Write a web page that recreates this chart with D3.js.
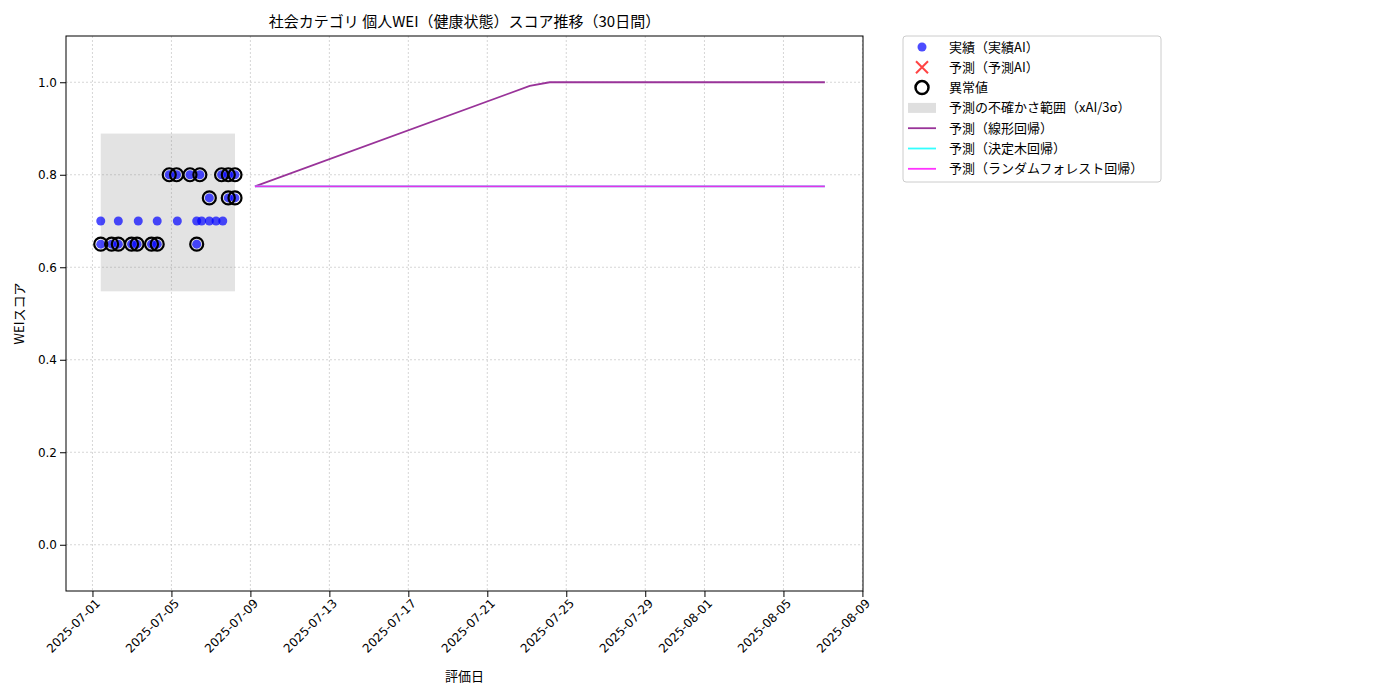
<!DOCTYPE html>
<html><head><meta charset="utf-8">
<script src="https://cdn.jsdelivr.net/npm/d3@7"></script>
<style>body{margin:0;background:#fff;font-family:"Noto Sans CJK JP","DejaVu Sans",sans-serif}</style>
</head><body><svg id="chart"></svg>
<script>
// day offsets from 2025-07-01
const actualDays = [0.42,0.97,1.31,1.98,2.26,2.99,3.28,5.28,
  0.42,1.31,2.32,3.28,4.3,5.28,5.53,5.92,6.26,6.6,
  3.89,4.26,4.94,5.44,6.54,6.88,7.22,
  5.92,6.88,7.22];
const actualVals = [0.65,0.65,0.65,0.65,0.65,0.65,0.65,0.65,
  0.70,0.70,0.70,0.70,0.70,0.70,0.70,0.70,0.70,0.70,
  0.80,0.80,0.80,0.80,0.80,0.80,0.80,
  0.75,0.75,0.75];
const anomalyIdx = [0,1,2,3,4,5,6,7,18,19,20,21,22,23,24,25,26,27];
const bandDays = [0.42,7.22];
const bandVals = [0.548,0.889];
const linDays = [8.23,22.15,23.16,37.1];
const linVals = [0.775,0.992,1.0,1.0];
const treeDays = [8.23,37.1];
const treeVals = [0.775,0.775];
const rfDays = [8.23,37.1];
const rfVals = [0.775,0.775];
const tickDates = ["2025-07-01","2025-07-05","2025-07-09","2025-07-13","2025-07-17","2025-07-21","2025-07-25","2025-07-29","2025-08-01","2025-08-05","2025-08-09"];
const yTicks = [0.0,0.2,0.4,0.6,0.8,1.0];

const base = new Date(2025,6,1);
const dt = d => new Date(base.getTime() + d*86400000);
const parse = d3.timeParse("%Y-%m-%d");

const svg = d3.select("#chart").attr("width",1400).attr("height",700);
const L=66,R=863,T=36,B=591;
const x = d3.scaleTime().domain([dt(-1.34), dt(39.03)]).range([L,R]);
const y = d3.scaleLinear().domain([-0.1,1.1]).range([B,T]);

// grid
const g = svg.append("g");
g.selectAll(".vg").data(tickDates).enter().append("line")
  .attr("x1",d=>x(parse(d))).attr("x2",d=>x(parse(d))).attr("y1",T).attr("y2",B)
  .attr("stroke","#ccc").attr("stroke-dasharray","2,2").attr("stroke-width",0.8);
g.selectAll(".hg").data(yTicks).enter().append("line")
  .attr("x1",L).attr("x2",R).attr("y1",d=>y(d)).attr("y2",d=>y(d))
  .attr("stroke","#ccc").attr("stroke-dasharray","2,2").attr("stroke-width",0.8);

// band
svg.append("rect").attr("x",x(dt(bandDays[0]))).attr("width",x(dt(bandDays[1]))-x(dt(bandDays[0])))
  .attr("y",y(bandVals[1])).attr("height",y(bandVals[0])-y(bandVals[1]))
  .attr("fill","#808080").attr("opacity",0.22);

// lines
const line = (ds,vs,color) => svg.append("path")
  .datum(ds.map((d,i)=>[d,vs[i]]))
  .attr("d",d3.line().x(d=>x(dt(d[0]))).y(d=>y(d[1])))
  .attr("fill","none").attr("stroke",color).attr("stroke-width",1.8);
line(linDays,linVals,"#993399");
line(treeDays,treeVals,"#33ffff");
line(rfDays,rfVals,"#e633e6");

// points
svg.selectAll(".pt").data(actualDays).enter().append("circle")
  .attr("cx",d=>x(dt(d))).attr("cy",(d,i)=>y(actualVals[i])).attr("r",4.5)
  .attr("fill","#0000ff").attr("fill-opacity",0.7);
svg.selectAll(".an").data(anomalyIdx).enter().append("circle")
  .attr("cx",i=>x(dt(actualDays[i]))).attr("cy",i=>y(actualVals[i])).attr("r",6.5)
  .attr("fill","none").attr("stroke","#000").attr("stroke-width",2.2);

// axes
const xa = svg.append("g").attr("transform",`translate(0,${B})`)
  .call(d3.axisBottom(x).tickValues(tickDates.map(parse)).tickFormat(d3.timeFormat("%Y-%m-%d")).tickSizeOuter(0));
xa.selectAll("text").attr("transform","rotate(-45)").attr("text-anchor","end")
  .attr("dx","-0.3em").attr("dy","0.5em").style("font-size","12px").style("font-family","DejaVu Sans");
const ya = svg.append("g").attr("transform",`translate(${L},0)`)
  .call(d3.axisLeft(y).tickValues(yTicks).tickFormat(d3.format(".1f")).tickSizeOuter(0));
ya.selectAll("text").style("font-size","12px").style("font-family","DejaVu Sans");
svg.selectAll(".domain").remove();
svg.append("rect").attr("x",L).attr("y",T).attr("width",R-L).attr("height",B-T)
  .attr("fill","none").attr("stroke","#000");

svg.append("text").attr("x",(L+R)/2).attr("y",27).attr("text-anchor","middle")
  .style("font-size","15px").text("社会カテゴリ 個人WEI（健康状態）スコア推移（30日間）");
svg.append("text").attr("x",(L+R)/2).attr("y",681).attr("text-anchor","middle")
  .style("font-size","13px").text("評価日");
svg.append("text").attr("transform",`translate(24,${(T+B)/2}) rotate(-90)`).attr("text-anchor","middle")
  .style("font-size","13px").text("WEIスコア");

// legend
const lg = svg.append("g").attr("transform","translate(903,36)");
lg.append("rect").attr("width",258).attr("height",146).attr("rx",3)
  .attr("fill","#fff").attr("stroke","#ccc");
const items = ["実績（実績AI）","予測（予測AI）","異常値","予測の不確かさ範囲（xAI/3σ）","予測（線形回帰）","予測（決定木回帰）","予測（ランダムフォレスト回帰）"];
items.forEach((t,i)=>{
  const cy = 11+i*20.3, sx=19;
  if(i===0) lg.append("circle").attr("cx",sx).attr("cy",cy).attr("r",4.5).attr("fill","#0000ff").attr("fill-opacity",0.7);
  if(i===1){lg.append("path").attr("d",`M${sx-6},${cy-6}L${sx+6},${cy+6}M${sx-6},${cy+6}L${sx+6},${cy-6}`).attr("stroke","#ff4444").attr("stroke-width",2);}
  if(i===2) lg.append("circle").attr("cx",sx).attr("cy",cy).attr("r",6.5).attr("fill","none").attr("stroke","#000").attr("stroke-width",2.5);
  if(i===3) lg.append("rect").attr("x",sx-14).attr("y",cy-5).attr("width",28).attr("height",10).attr("fill","#808080").attr("opacity",0.25);
  if(i>=4) lg.append("line").attr("x1",sx-14).attr("x2",sx+14).attr("y1",cy).attr("y2",cy)
    .attr("stroke",["#993399","#33ffff","#ff33ff"][i-4]).attr("stroke-width",1.8);
  lg.append("text").attr("x",46).attr("y",cy+4.5).style("font-size","13px").text(t);
});
</script></body></html>
